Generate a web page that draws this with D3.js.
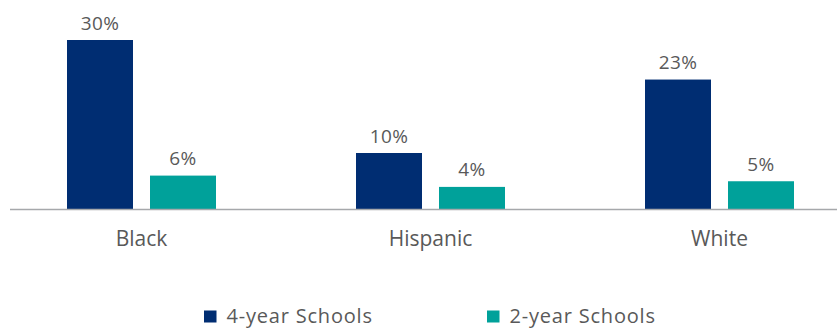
<!DOCTYPE html>
<html><head><meta charset="utf-8">
<script src="https://cdn.jsdelivr.net/npm/d3@7"></script>
<style>body{margin:0;background:#fff}svg{display:block}text{font-family:"Open Sans",sans-serif;fill:#595959}</style>
</head><body>
<script>
const categories = ["Black","Hispanic","White"];
const seriesNames = ["4-year Schools","2-year Schools"];
const fourYear = [30,10,23];
const twoYear = [6,4,5];
const colors = ["#002D72","#00A19A"];

const W=837,H=328;
const svg=d3.select("body").append("svg").attr("width",W).attr("height",H);
const x0=d3.scaleBand().domain(categories).range([-3,864]);
const x1=d3.scaleBand().domain(seriesNames).range([70,219]).paddingInner(17/83);
const y=d3.scaleLinear().domain([0,30]).range([209.5,40]);

const data=categories.map((c,i)=>({cat:c,vals:[fourYear[i],twoYear[i]]}));
const g=svg.selectAll("g.grp").data(data).join("g").attr("transform",d=>`translate(${x0(d.cat)},0)`);
g.selectAll("rect").data(d=>d.vals.map((v,j)=>({s:seriesNames[j],v,j}))).join("rect")
 .attr("x",d=>x1(d.s)).attr("width",x1.bandwidth())
 .attr("y",d=>y(d.v)).attr("height",d=>y(0)-y(d.v)).attr("fill",d=>colors[d.j]);
g.selectAll("text.lbl").data(d=>d.vals.map((v,j)=>({s:seriesNames[j],v,j}))).join("text")
 .attr("class","lbl").attr("x",d=>x1(d.s)+x1.bandwidth()/2).attr("y",d=>y(d.v)-10.5)
 .attr("text-anchor","middle").style("font-size","19px").style("letter-spacing","0.4px").text(d=>d.v+"%");

svg.append("line").attr("x1",10).attr("x2",W).attr("y1",y(0)).attr("y2",y(0))
 .attr("stroke","#a6a8ab").attr("stroke-width",1.5);

const xAxis=d3.axisBottom(x0).tickSize(0).tickPadding(0);
const ax=svg.append("g").attr("transform",`translate(0,${y(0)})`).call(xAxis);
ax.select(".domain").remove();
ax.selectAll("text").attr("dy",null).attr("y",36.5).style("font-size","21px").style("font-family","'Open Sans',sans-serif").attr("fill","#595959");

const legX=[204,487];
const leg=svg.selectAll("g.leg").data(seriesNames).join("g").attr("transform",(d,i)=>`translate(${legX[i]},0)`);
leg.append("rect").attr("x",0).attr("y",310.5).attr("width",12.5).attr("height",12).attr("fill",(d,i)=>colors[i]);
leg.append("text").attr("x",22.5).attr("y",322.5).style("font-size","20px").style("letter-spacing","0.8px").text(d=>d);
</script>
</body></html>
